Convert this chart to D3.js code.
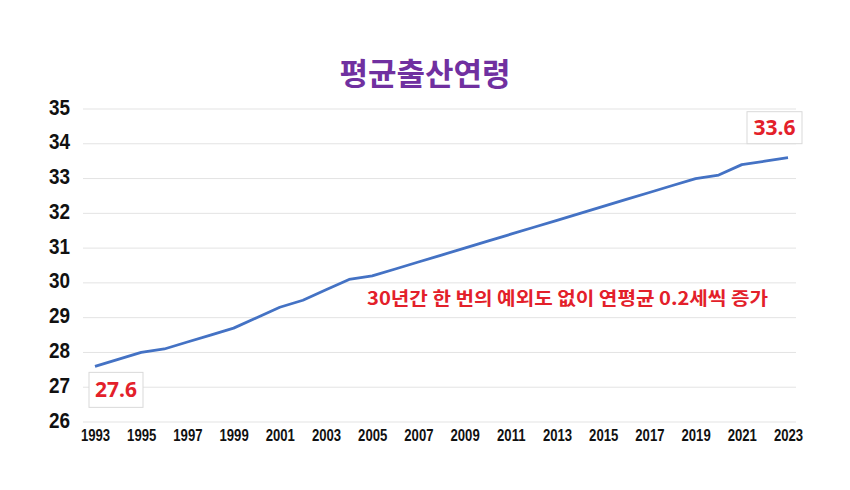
<!DOCTYPE html>
<html>
<head>
<meta charset="utf-8">
<script src="https://cdn.jsdelivr.net/npm/d3@7"></script>
<style>
  body { margin: 0; background: #fff; }
</style>
</head>
<body>
<div id="chart"></div>
<script>
// data
var years = [1993, 1994, 1995, 1996, 1997, 1998, 1999, 2000, 2001, 2002,
             2003, 2004, 2005, 2006, 2007, 2008, 2009, 2010, 2011, 2012,
             2013, 2014, 2015, 2016, 2017, 2018, 2019, 2020, 2021, 2022, 2023];
var ages = [27.6, 27.8, 28.0, 28.1, 28.3, 28.5, 28.7, 29.0, 29.3, 29.5,
            29.8, 30.1, 30.2, 30.4, 30.6, 30.8, 31.0, 31.2, 31.4, 31.6,
            31.8, 32.0, 32.2, 32.4, 32.6, 32.8, 33.0, 33.1, 33.4, 33.5, 33.6];
var yTicks = [26, 27, 28, 29, 30, 31, 32, 33, 34, 35];
var xTicks = [1993, 1995, 1997, 1999, 2001, 2003, 2005, 2007, 2009, 2011,
              2013, 2015, 2017, 2019, 2021, 2023];
var title = "평균출산연령";
var note = "30년간 한 번의 예외도 없이 연평균 0.2세씩 증가";

var w = 850,
    h = 490,
    svg = d3.select("#chart")
            .append("svg")
            .attr("width", w)
            .attr("height", h);

var data = years.map(function(y, i) { return {year: y, age: ages[i]}; });

var x = d3.scaleLinear()
    .domain([1993, 2023])
    .range([95, 788]);

var y = d3.scaleLinear()
    .domain([26, 35])
    .range([422, 109]);

var numFont = "'Liberation Sans', Arial, sans-serif";
var krFont = "'Noto Sans CJK KR', 'Noto Sans', sans-serif";

// gridlines
svg.append("g")
    .selectAll("line")
    .data(yTicks)
    .enter().append("line")
    .attr("x1", 83)
    .attr("x2", 796)
    .attr("y1", function(d) { return y(d); })
    .attr("y2", function(d) { return y(d); })
    .attr("stroke", "#e3e3e3")
    .attr("stroke-width", 1);

// y axis (condensed bold numbers)
var yAxis = svg.append("g")
    .attr("transform", "translate(70, -2)")
    .call(d3.axisLeft(y).tickValues(yTicks).tickSize(0).tickPadding(0));
yAxis.select(".domain").remove();
yAxis.selectAll("text")
    .attr("font-family", numFont)
    .attr("font-size", "22px")
    .attr("font-weight", "bold")
    .attr("fill", "#111")
    .attr("transform", "scale(0.86,1)");

// x axis
var xAxis = svg.append("g")
    .attr("transform", "translate(0, 430)")
    .call(d3.axisBottom(x).tickValues(xTicks).tickFormat(d3.format("d")).tickSize(0).tickPadding(0));
xAxis.select(".domain").remove();
xAxis.selectAll("text")
    .attr("font-family", numFont)
    .attr("font-size", "16px")
    .attr("font-weight", "bold")
    .attr("fill", "#111")
    .attr("transform", "scale(0.82,1)");

// line
var line = d3.line()
    .x(function(d) { return x(d.year); })
    .y(function(d) { return y(d.age); });

svg.append("path")
    .datum(data)
    .attr("fill", "none")
    .attr("stroke", "#4472C4")
    .attr("stroke-width", 2.8)
    .attr("stroke-linejoin", "round")
    .attr("d", line);

// title
svg.append("text")
    .attr("x", 425)
    .attr("y", 85)
    .attr("text-anchor", "middle")
    .attr("font-family", krFont)
    .attr("font-size", "31px")
    .attr("font-weight", "bold")
    .attr("fill", "#7030A0")
    .text(title);

// value boxes
function valueBox(d, bx, by, bw, bh) {
    svg.append("rect")
        .attr("x", bx).attr("y", by)
        .attr("width", bw).attr("height", bh)
        .attr("fill", "#fff")
        .attr("stroke", "#d9d9d9")
        .attr("stroke-width", 1);
    svg.append("text")
        .attr("x", bx + bw / 2)
        .attr("y", by + bh / 2 + 7.5)
        .attr("text-anchor", "middle")
        .attr("font-family", "'Open Sans', 'Noto Sans', sans-serif")
        .attr("font-size", "21px")
        .attr("font-weight", "bold")
        .attr("fill", "#E3202A")
        .text(d.age.toFixed(1));
}
var first = data[0], last = data[data.length - 1];
valueBox(first, x(first.year) - 6, y(first.age) + 6, 54, 35);
valueBox(last, x(last.year) - 41, y(last.age) - 46, 55, 32);

// note
svg.append("text")
    .attr("x", 367)
    .attr("y", 305)
    .attr("font-family", krFont)
    .attr("font-size", "18px")
    .attr("font-weight", "bold")
    .attr("fill", "#E3202A")
    .attr("textLength", 401)
    .attr("lengthAdjust", "spacingAndGlyphs")
    .text(note);
</script>
</body>
</html>
